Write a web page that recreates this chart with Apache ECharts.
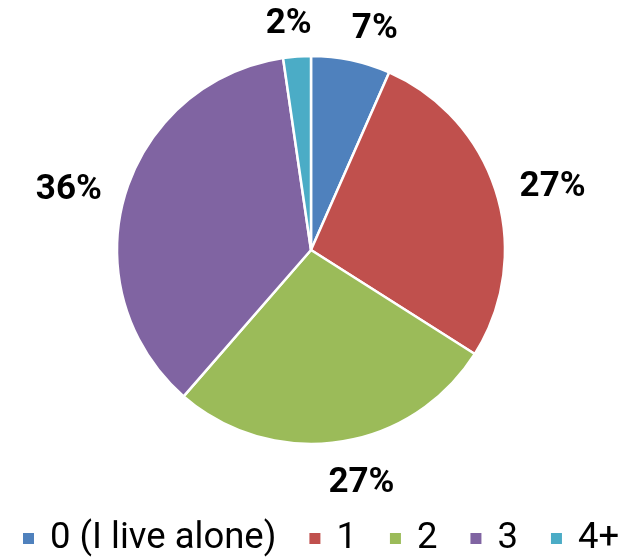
<!DOCTYPE html>
<html>
<head>
<meta charset="utf-8">
<script src="https://cdn.jsdelivr.net/npm/echarts@6/dist/echarts.min.js"></script>
<style>
  html, body { margin: 0; padding: 0; background: #fff; }
  #chart { width: 634px; height: 558px; }
</style>
</head>
<body>
<div id="chart"></div>
<script>
var categories = ["0 (I live alone)", "1", "2", "3", "4+"];
var shares = [6.6, 27.4, 27.4, 36.3, 2.3];
var colors = ["#4F81BD", "#C0504D", "#9BBB59", "#8064A2", "#4BACC6"];

var chart = echarts.init(document.getElementById("chart"));
var pieData = categories.map(function (name, i) {
    return { name: name, value: shares[i], itemStyle: { color: colors[i] } };
});

// label sits just outside the slice, pushed off the arc like Excel's "outside end"
function placeLabel(p) {
    var pts = p.labelLinePoints;
    if (!pts) return {};
    var ax = pts[1][0] - pts[0][0], ay = pts[1][1] - pts[0][1];
    var len = Math.sqrt(ax * ax + ay * ay) || 1;
    ax /= len; ay /= len;
    var w = p.labelRect.width, h = p.labelRect.height * 0.75;
    var fx = Math.max(-1, Math.min(1, ax * 4));
    return {
        x: pts[0][0] + ax * 24 + fx * w / 2,
        y: pts[0][1] + ay * 24 + ay * h / 2 + 5,
        align: "center",
        verticalAlign: "middle"
    };
}

chart.setOption({
    animation: false,
    legend: {
        top: 520,
        left: 21,
        padding: 0,
        icon: "rect",
        itemWidth: 13,
        itemHeight: 13,
        itemGap: 31,
        textStyle: { fontFamily: "Roboto", fontSize: 36.5, color: "#000", padding: [0, 0, 0, 10] },
        data: categories
    },
    series: [{
        type: "pie",
        center: [311, 250],
        radius: 194,
        startAngle: 90,
        clockwise: true,
        avoidLabelOverlap: false,
        data: pieData,
        itemStyle: { borderColor: "#fff", borderWidth: 2.5 },
        label: {
            show: true,
            position: "outside",
            fontFamily: "Roboto",
            fontWeight: "bold",
            fontSize: 35,
            color: "#000",
            formatter: function (p) { return Math.round(p.percent) + "%"; }
        },
        labelLine: { show: true, length: 10, length2: 4, lineStyle: { opacity: 0 } },
        labelLayout: placeLabel
    }]
});
</script>
</body>
</html>
